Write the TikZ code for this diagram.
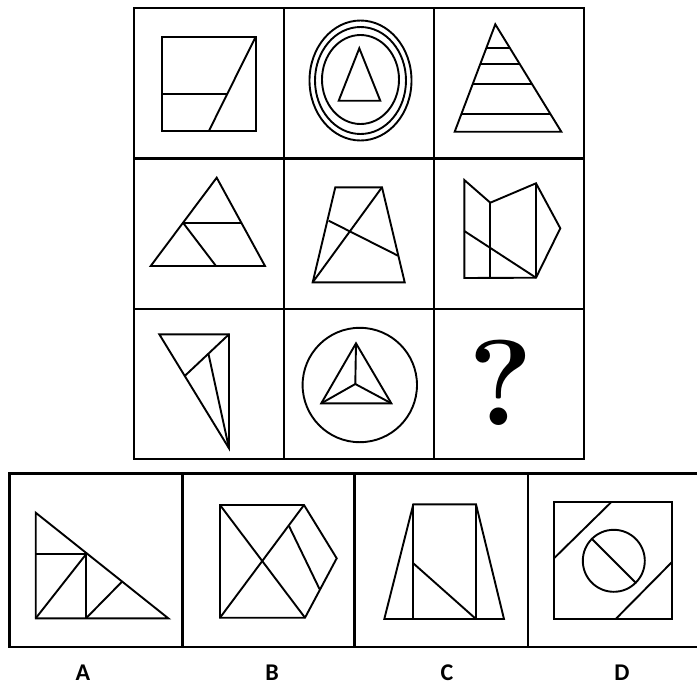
\documentclass[tikz,border=0pt]{standalone}
\usepackage{fontspec}
\newfontfamily\optfont{Carlito}
\usetikzlibrary{positioning}
\tikzset{
  frameline/.style={line width=2.4pt},
  figline/.style={line width=1.9pt, line join=miter},
  optlabel/.style={font=\fontsize{24}{24}\selectfont\optfont\bfseries, inner sep=0pt},
}

\begin{document}
\begin{tikzpicture}[x=1pt, y=-1pt]
\useasboundingbox (0,0) rectangle (697,689);
\fill[white] (0,0) rectangle (697,689);
% 3x3 grid
\draw[frameline] (134,8) rectangle (584,459);
\draw[frameline] (284,8) -- (284,459);
\draw[frameline] (434,8) -- (434,459);
\draw[frameline] (134,158.5) -- (584,158.5);
\draw[frameline] (134,309) -- (584,309);
% row 1
\draw[figline] (162.3,36.7) rectangle (255.7,130.7);
\draw[figline] (162.3,94) -- (227.2,94);
\draw[figline] (255.7,36.7) -- (209,130.7);
\draw[figline] (360.5,80.5) ellipse (51 and 60);
\draw[figline] (360.5,80.5) ellipse (45.5 and 53.5);
\draw[figline] (360.5,79.5) ellipse (38.5 and 44.5);
\draw[figline] (359.3,48.3) -- (338.7,100.7) -- (380.3,100.7) -- cycle;
\draw[figline] (495.3,24.3) -- (454.7,131.7) -- (561.3,131.7) -- cycle;
\draw[figline] (486.2,48.3) -- (510.0,48.3);
\draw[figline] (480.2,64.3) -- (519.9,64.3);
\draw[figline] (472.6,84.3) -- (532.2,84.3);
\draw[figline] (461.4,114) -- (550.4,114);
% row 2
\draw[figline] (216.7,177.7) -- (150.7,266) -- (265,266) -- cycle;
\draw[figline] (183,222.7) -- (241.3,222.7);
\draw[figline] (183,222.7) -- (216,266);
\draw[figline] (335.3,187.3) -- (382,187.3) -- (404.7,282.3) -- (312.7,282.3) -- cycle;
\draw[figline] (312.7,282.3) -- (382,187.3);
\draw[figline] (328.7,220.7) -- (398,255.7);
\draw[figline] (464.3,180) -- (490.3,202.7) -- (536,183.3) -- (560.3,228.3)
  -- (536,277.7) -- (464.3,278) -- cycle;
\draw[figline] (490.3,202.7) -- (490.3,278);
\draw[figline] (536,183.3) -- (536,277.7);
\draw[figline] (464.3,231) -- (536,277.7);
% row 3
\draw[figline] (159.3,334.3) -- (229,334.3) -- (229,448.3) -- cycle;
\draw[figline] (229,334.3) -- (185,375.7);
\draw[figline] (208.5,354) -- (229,448.3);
\draw[figline] (359.8,385) circle (57.2);
\draw[figline] (356,343.3) -- (321.3,403.3) -- (391.3,403.3) -- cycle;
\draw[figline] (355.3,384) -- (356,343.3);
\draw[figline] (355.3,384) -- (321.3,403.3);
\draw[figline] (355.3,384) -- (391.3,403.3);
\node[inner sep=0pt] (qmark) at (500.5,383) {\fontsize{122}{122}\selectfont\bfseries ?};
% options
\draw[frameline] (9.3,473.3) rectangle (702,646.7);
\draw[frameline] (182.3,473.3) -- (182.3,646.7);
\draw[frameline] (354.5,473.3) -- (354.5,646.7);
\draw[frameline] (527.7,473.3) -- (527.7,646.7);
% A
\draw[figline] (35.7,512.7) -- (35.7,618.3) -- (168.3,618.3) -- cycle;
\draw[figline] (35.7,554.3) -- (86,554.3) -- (86,618.3);
\draw[figline] (35.7,618.3) -- (86,554.3);
\draw[figline] (86,618.3) -- (121.7,582);
% B
\draw[figline] (220,505) -- (304,505) -- (336.7,558.3) -- (305,617.7) -- (220,617.7) -- cycle;
\draw[figline] (220,505) -- (305,617.7);
\draw[figline] (220,617.7) -- (304,505);
\draw[figline] (289,526) -- (319.5,589);
% C
\draw[figline] (413.3,504.3) -- (476,504.3) -- (504,619) -- (384.3,619) -- cycle;
\draw[figline] (413.3,504.3) -- (413.3,619);
\draw[figline] (476,504.3) -- (476,619);
\draw[figline] (413.3,563.3) -- (476,619);
% D
\draw[figline] (554,501.7) rectangle (672.3,619);
\draw[figline] (613.8,560.8) circle (31);
\draw[figline] (591.9,538.9) -- (635.7,582.7);
\draw[figline] (554,558.3) -- (611.7,501.7);
\draw[figline] (615.7,619) -- (672.3,561.7);
% labels
\node[optlabel] (labA) at (83,673) {A};
\node[optlabel] (labB) at (272,673) {B};
\node[optlabel] (labC) at (447,673) {C};
\node[optlabel] (labD) at (622,673) {D};
\end{tikzpicture}
\end{document}
